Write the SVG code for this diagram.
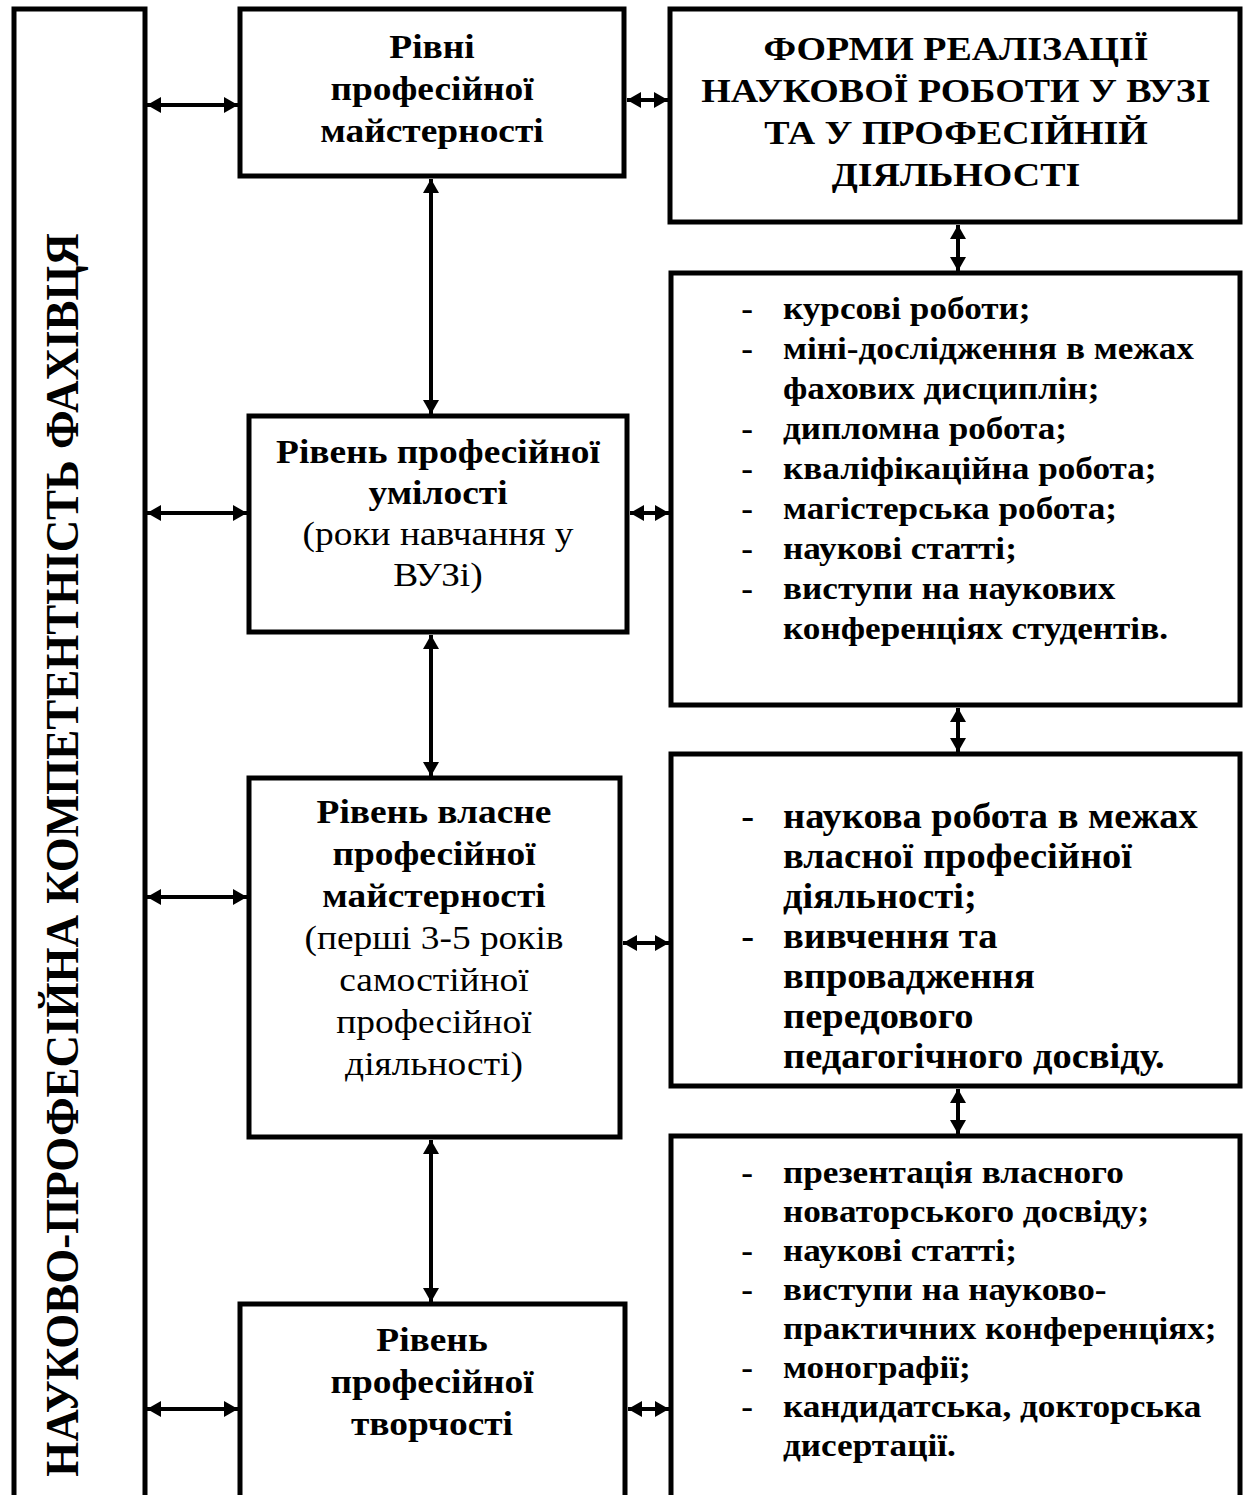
<svg xmlns="http://www.w3.org/2000/svg" width="1245" height="1495" viewBox="0 0 1245 1495">
<style>
.box{fill:#fff;stroke:#000;stroke-width:5}
.t{font-family:"Liberation Serif","Times New Roman",serif;font-size:34px;fill:#000}
.b{font-weight:bold}
.c{text-anchor:middle}
.l2{font-size:32px;font-weight:bold}
.l3{font-size:35px;font-weight:bold}
.ln{stroke:#000;stroke-width:4;fill:none;marker-start:url(#ah);marker-end:url(#ah)}
</style>
<defs>
<marker id="ah" viewBox="0 0 14 16" refX="14" refY="8" markerWidth="14" markerHeight="16" markerUnits="userSpaceOnUse" orient="auto-start-reverse">
<path d="M0,0 L14,8 L0,16 z" fill="#000"/>
</marker>
</defs>
<rect width="1245" height="1495" fill="#fff"/>

<g id="main">
<rect class="box" x="14" y="9" width="131" height="1500"/>
<text class="t b c" style="font-size:45px" transform="translate(78,855) scale(1.04,1) rotate(-90)">НАУКОВО-ПРОФЕСІЙНА КОМПЕТЕНТНІСТЬ ФАХІВЦЯ</text>
</g>

<g id="level-a">
<rect class="box" x="240" y="9" width="384" height="167"/>
<g transform="translate(432,0) scale(1.1,1) translate(-432,0)">
<text class="t b c" x="432" y="58">Рівні</text>
<text class="t b c" x="432" y="100">професійної</text>
<text class="t b c" x="432" y="142">майстерності</text>
</g>
</g>

<g id="level-b">
<rect class="box" x="249" y="416" width="378" height="216"/>
<g transform="translate(438,0) scale(1.1,1) translate(-438,0)">
<text class="t b c" x="438" y="463">Рівень професійної</text>
<text class="t b c" x="438" y="504">умілості</text>
<text class="t c" x="438" y="545">(роки навчання у</text>
<text class="t c" x="438" y="586">ВУЗі)</text>
</g>
</g>

<g id="level-c">
<rect class="box" x="249" y="778" width="371" height="359"/>
<g transform="translate(434,0) scale(1.1,1) translate(-434,0)">
<text class="t b c" x="434" y="823">Рівень власне</text>
<text class="t b c" x="434" y="865">професійної</text>
<text class="t b c" x="434" y="907">майстерності</text>
<text class="t c" x="434" y="949">(перші 3-5 років</text>
<text class="t c" x="434" y="991">самостійної</text>
<text class="t c" x="434" y="1033">професійної</text>
<text class="t c" x="434" y="1075">діяльності)</text>
</g>
</g>

<g id="level-d">
<rect class="box" x="240" y="1304" width="385" height="220"/>
<g transform="translate(432,0) scale(1.1,1) translate(-432,0)">
<text class="t b c" x="432" y="1351">Рівень</text>
<text class="t b c" x="432" y="1393">професійної</text>
<text class="t b c" x="432" y="1435">творчості</text>
</g>
</g>

<g id="forms">
<rect class="box" x="670" y="9" width="570" height="213"/>
<g transform="translate(956,0) scale(1.1,1) translate(-956,0)">
<text class="t b c" x="956" y="60" style="font-size:34.5px">ФОРМИ РЕАЛІЗАЦІЇ</text>
<text class="t b c" x="956" y="102" style="font-size:34.5px">НАУКОВОЇ РОБОТИ У ВУЗІ</text>
<text class="t b c" x="956" y="144" style="font-size:34.5px">ТА У ПРОФЕСІЙНІЙ</text>
<text class="t b c" x="956" y="186" style="font-size:34.5px">ДІЯЛЬНОСТІ</text>
</g>
</g>

<g id="forms-study">
<rect class="box" x="671" y="273" width="569" height="432"/>
<g class="t l2" transform="translate(783,0) scale(1.1,1) translate(-783,0)">
<text x="745" y="319">-</text><text x="783" y="319">курсові роботи;</text>
<text x="745" y="359">-</text><text x="783" y="359">міні-дослідження в межах</text>
<text x="783" y="399">фахових дисциплін;</text>
<text x="745" y="439">-</text><text x="783" y="439">дипломна робота;</text>
<text x="745" y="479">-</text><text x="783" y="479">кваліфікаційна робота;</text>
<text x="745" y="519">-</text><text x="783" y="519">магістерська робота;</text>
<text x="745" y="559">-</text><text x="783" y="559">наукові статті;</text>
<text x="745" y="599">-</text><text x="783" y="599">виступи на наукових</text>
<text x="783" y="639">конференціях студентів.</text>
</g>
</g>

<g id="forms-early">
<rect class="box" x="671" y="754" width="569" height="332"/>
<g class="t l3" transform="translate(783,0) scale(1.1,1) translate(-783,0)">
<text x="745" y="828">-</text><text x="783" y="828">наукова робота в межах</text>
<text x="783" y="868">власної професійної</text>
<text x="783" y="908">діяльності;</text>
<text x="745" y="948">-</text><text x="783" y="948">вивчення та</text>
<text x="783" y="988">впровадження</text>
<text x="783" y="1028">передового</text>
<text x="783" y="1068">педагогічного досвіду.</text>
</g>
</g>

<g id="forms-creative">
<rect class="box" x="671" y="1136" width="569" height="400"/>
<g class="t l2" transform="translate(783,0) scale(1.1,1) translate(-783,0)">
<text x="745" y="1183">-</text><text x="783" y="1183">презентація власного</text>
<text x="783" y="1222">новаторського досвіду;</text>
<text x="745" y="1261">-</text><text x="783" y="1261">наукові статті;</text>
<text x="745" y="1300">-</text><text x="783" y="1300">виступи на науково-</text>
<text x="783" y="1339">практичних конференціях;</text>
<text x="745" y="1378">-</text><text x="783" y="1378">монографії;</text>
<text x="745" y="1417">-</text><text x="783" y="1417">кандидатська, докторська</text>
<text x="783" y="1456">дисертації.</text>
</g>
</g>

<g id="connectors">
<line class="ln" x1="147" y1="105" x2="238" y2="105"/>
<line class="ln" x1="147" y1="513" x2="247" y2="513"/>
<line class="ln" x1="147" y1="897" x2="247" y2="897"/>
<line class="ln" x1="147" y1="1409" x2="238" y2="1409"/>
<line class="ln" x1="627" y1="100" x2="668" y2="100"/>
<line class="ln" x1="630" y1="513" x2="669" y2="513"/>
<line class="ln" x1="623" y1="943" x2="669" y2="943"/>
<line class="ln" x1="628" y1="1409" x2="669" y2="1409"/>
<line class="ln" x1="431" y1="179" x2="431" y2="414"/>
<line class="ln" x1="431" y1="635" x2="431" y2="776"/>
<line class="ln" x1="431" y1="1140" x2="431" y2="1302"/>
<line class="ln" x1="958" y1="225" x2="958" y2="271"/>
<line class="ln" x1="958" y1="708" x2="958" y2="752"/>
<line class="ln" x1="958" y1="1089" x2="958" y2="1134"/>
</g>
</svg>
